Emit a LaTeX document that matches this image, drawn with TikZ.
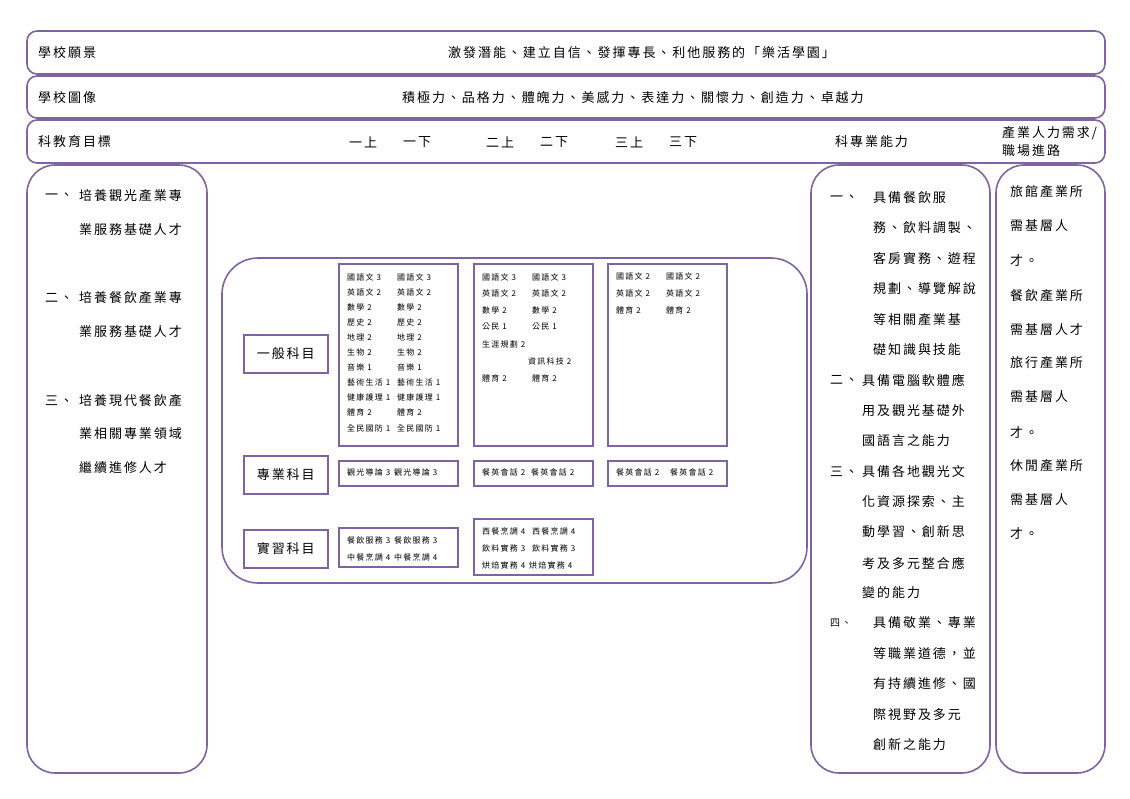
\documentclass[tikz,border=0pt]{standalone}
\usepackage{fontspec}
\setmainfont{Noto Sans CJK TC}
\newfontfamily\mainf[LetterSpace=15]{Noto Sans CJK TC}
\definecolor{pur}{HTML}{8064A2}
\begin{document}
\begin{tikzpicture}[x=1pt,y=-1pt,
  frame/.style={draw=pur, line width=1.6pt, rounded corners=10pt},
  colbox/.style={draw=pur, line width=1.6pt, rounded corners=28pt},
  midbox/.style={draw=pur, line width=1.6pt, rounded corners=36pt},
  sbox/.style={draw=pur, line width=1.5pt, inner sep=0pt, anchor=north west},
  txt/.style={anchor=west, inner sep=0pt, font={\mainf\fontsize{13}{15}\selectfont}},
  numtxt/.style={anchor=west, inner sep=0pt, font={\mainf\fontsize{10}{12}\selectfont}},
  ctxt/.style={anchor=west, inner sep=0pt, font={\mainf\fontsize{8}{9}\selectfont}},
  lbl/.style={sbox, minimum width=84pt, minimum height=38pt, font={\mainf\fontsize{13}{15}\selectfont}}
]
\useasboundingbox (0,0) rectangle (1130,798);
\fill[white] (0,0) rectangle (1130,798);

% header rows
\draw[frame] (27,31) rectangle (1105,74);
\draw[frame] (27,76) rectangle (1105,118);
\draw[frame] (27,120) rectangle (1105,163);
\node[txt] (h1) at (38,53) {學校願景};
\node[txt] (h1t) at (448,53) {激發潛能、建立自信、發揮專長、利他服務的「樂活學園」};
\node[txt] (h2) at (38,98) {學校圖像};
\node[txt] (h2t) at (402,98) {積極力、品格力、體魄力、美感力、表達力、關懷力、創造力、卓越力};
\node[txt] (h3) at (38,142) {科教育目標};
\node[txt] (s1) at (349,142) {一上};
\node[txt] (s2) at (403,142) {一下};
\node[txt] (s3) at (486,142) {二上};
\node[txt] (s4) at (540,142) {二下};
\node[txt] (s5) at (615,142) {三上};
\node[txt] (s6) at (669,142) {三下};
\node[txt] (h3c) at (835,142) {科專業能力};
\node[txt] (h3d1) at (1002,133) {產業人力需求/};
\node[txt] (h3d2) at (1002,151) {職場進路};

% columns
\draw[colbox] (27,165) rectangle (207,773);
\draw[colbox] (811,165) rectangle (990,773);
\draw[colbox] (996,165) rectangle (1105,773);
\draw[midbox] (222,258) rectangle (807,583);

% left column
\node[txt] (l1n) at (45,196) {一、};
\node[txt] (l1a) at (79,196) {培養觀光產業專};
\node[txt] (l1b) at (79,230) {業服務基礎人才};
\node[txt] (l2n) at (45,298) {二、};
\node[txt] (l2a) at (79,298) {培養餐飲產業專};
\node[txt] (l2b) at (79,332) {業服務基礎人才};
\node[txt] (l3n) at (45,401) {三、};
\node[txt] (l3a) at (79,401) {培養現代餐飲產};
\node[txt] (l3b) at (79,434) {業相關專業領域};
\node[txt] (l3c) at (79,468) {繼續進修人才};

% right column 1
\node[txt] (r1n) at (830,198) {一、};
\node[numtxt] (r4n) at (830,623) {四、};
\node[txt] (r2n) at (830,380) {二、};
\node[txt] (r3n) at (830,472) {三、};
\foreach \x/\y/\t [count=\i] in {
 873/198/具備餐飲服, 873/228/務、飲料調製、, 873/259/客房實務、遊程,
 873/289/規劃、導覽解說, 873/320/等相關產業基, 873/350/礎知識與技能,
 862/380/具備電腦軟體應, 862/411/用及觀光基礎外, 862/441/國語言之能力,
 862/472/具備各地觀光文, 862/502/化資源探索、主, 862/532/動學習、創新思,
 862/563/考及多元整合應, 862/593/變的能力,
 873/623/具備敬業、專業, 873/654/等職業道德，並, 873/684/有持續進修、國,
 873/715/際視野及多元, 873/745/創新之能力}
 \node[txt] (rc\i) at (\x,\y) {\t};

% right column 2
\foreach \y/\t [count=\i] in {
 192/旅館產業所, 226/需基層人, 260/才。, 296/餐飲產業所, 330/需基層人才,
 363/旅行產業所, 397/需基層人, 432/才。, 466/休閒產業所, 500/需基層人, 533/才。}
 \node[txt] (rd\i) at (1010,\y) {\t};

% category labels
\node[lbl] (g1) at (243,334) {一般科目};
\node[lbl] (g2) at (243,455) {專業科目};
\node[lbl] (g3) at (243,529) {實習科目};

% course boxes
\node[sbox, minimum width=119pt, minimum height=182pt] (A1) at (338,263) {};
\node[sbox, minimum width=119pt, minimum height=182pt] (A2) at (473,263) {};
\node[sbox, minimum width=119pt, minimum height=182pt] (A3) at (607,263) {};
\node[sbox, minimum width=119pt, minimum height=25pt] (B1) at (338,460) {};
\node[sbox, minimum width=119pt, minimum height=25pt] (B2) at (473,460) {};
\node[sbox, minimum width=119pt, minimum height=25pt] (B3) at (607,460) {};
\node[sbox, minimum width=119pt, minimum height=39pt] (C1) at (338,527) {};
\node[sbox, minimum width=119pt, minimum height=56pt] (C2) at (473,518) {};

% A1 texts
\foreach \a/\b [count=\i] in {國語文 3/國語文 3, 英語文 2/英語文 2, 數學 2/數學 2,
 歷史 2/歷史 2, 地理 2/地理 2, 生物 2/生物 2, 音樂 1/音樂 1,
 藝術生活 1/藝術生活 1, 健康護理 1/健康護理 1, 體育 2/體育 2, 全民國防 1/全民國防 1}
 {\node[ctxt] (a1l\i) at (347,{277+15.1*(\i-1)}) {\a};
  \node[ctxt] (a1r\i) at (397,{277+15.1*(\i-1)}) {\b};}

% A2 texts
\foreach \y/\a/\b [count=\i] in {277/國語文 3/國語文 3, 293.5/英語文 2/英語文 2,
 310/數學 2/數學 2, 327/公民 1/公民 1, 378/體育 2/體育 2}
 {\node[ctxt] (a2l\i) at (482,\y) {\a};
  \node[ctxt] (a2r\i) at (532,\y) {\b};}
\node[ctxt] (a2x1) at (482,344) {生涯規劃 2};
\node[ctxt] (a2x2) at (528,361) {資訊科技 2};

% A3 texts
\foreach \y/\a [count=\i] in {276/國語文 2, 293/英語文 2, 310/體育 2}
 {\node[ctxt] (a3l\i) at (616,\y) {\a};
  \node[ctxt] (a3r\i) at (666,\y) {\a};}

% B texts
\node[ctxt] (b1l) at (347,472.5) {觀光導論 3};
\node[ctxt] (b1r) at (394,472.5) {觀光導論 3};
\node[ctxt] (b2l) at (482,472.5) {餐英會話 2};
\node[ctxt] (b2r) at (531,472.5) {餐英會話 2};
\node[ctxt] (b3l) at (616,472.5) {餐英會話 2};
\node[ctxt] (b3r) at (670,472.5) {餐英會話 2};

% C texts
\node[ctxt] (c1l1) at (347,540) {餐飲服務 3};
\node[ctxt] (c1r1) at (394,540) {餐飲服務 3};
\node[ctxt] (c1l2) at (347,557) {中餐烹調 4};
\node[ctxt] (c1r2) at (394,557) {中餐烹調 4};
\node[ctxt] (c2l1) at (482,531) {西餐烹調 4};
\node[ctxt] (c2r1) at (532,531) {西餐烹調 4};
\node[ctxt] (c2l2) at (482,548) {飲料實務 3};
\node[ctxt] (c2r2) at (532,548) {飲料實務 3};
\node[ctxt] (c2l3) at (482,565) {烘焙實務 4};
\node[ctxt] (c2r3) at (529,565) {烘焙實務 4};
\end{tikzpicture}
\end{document}
